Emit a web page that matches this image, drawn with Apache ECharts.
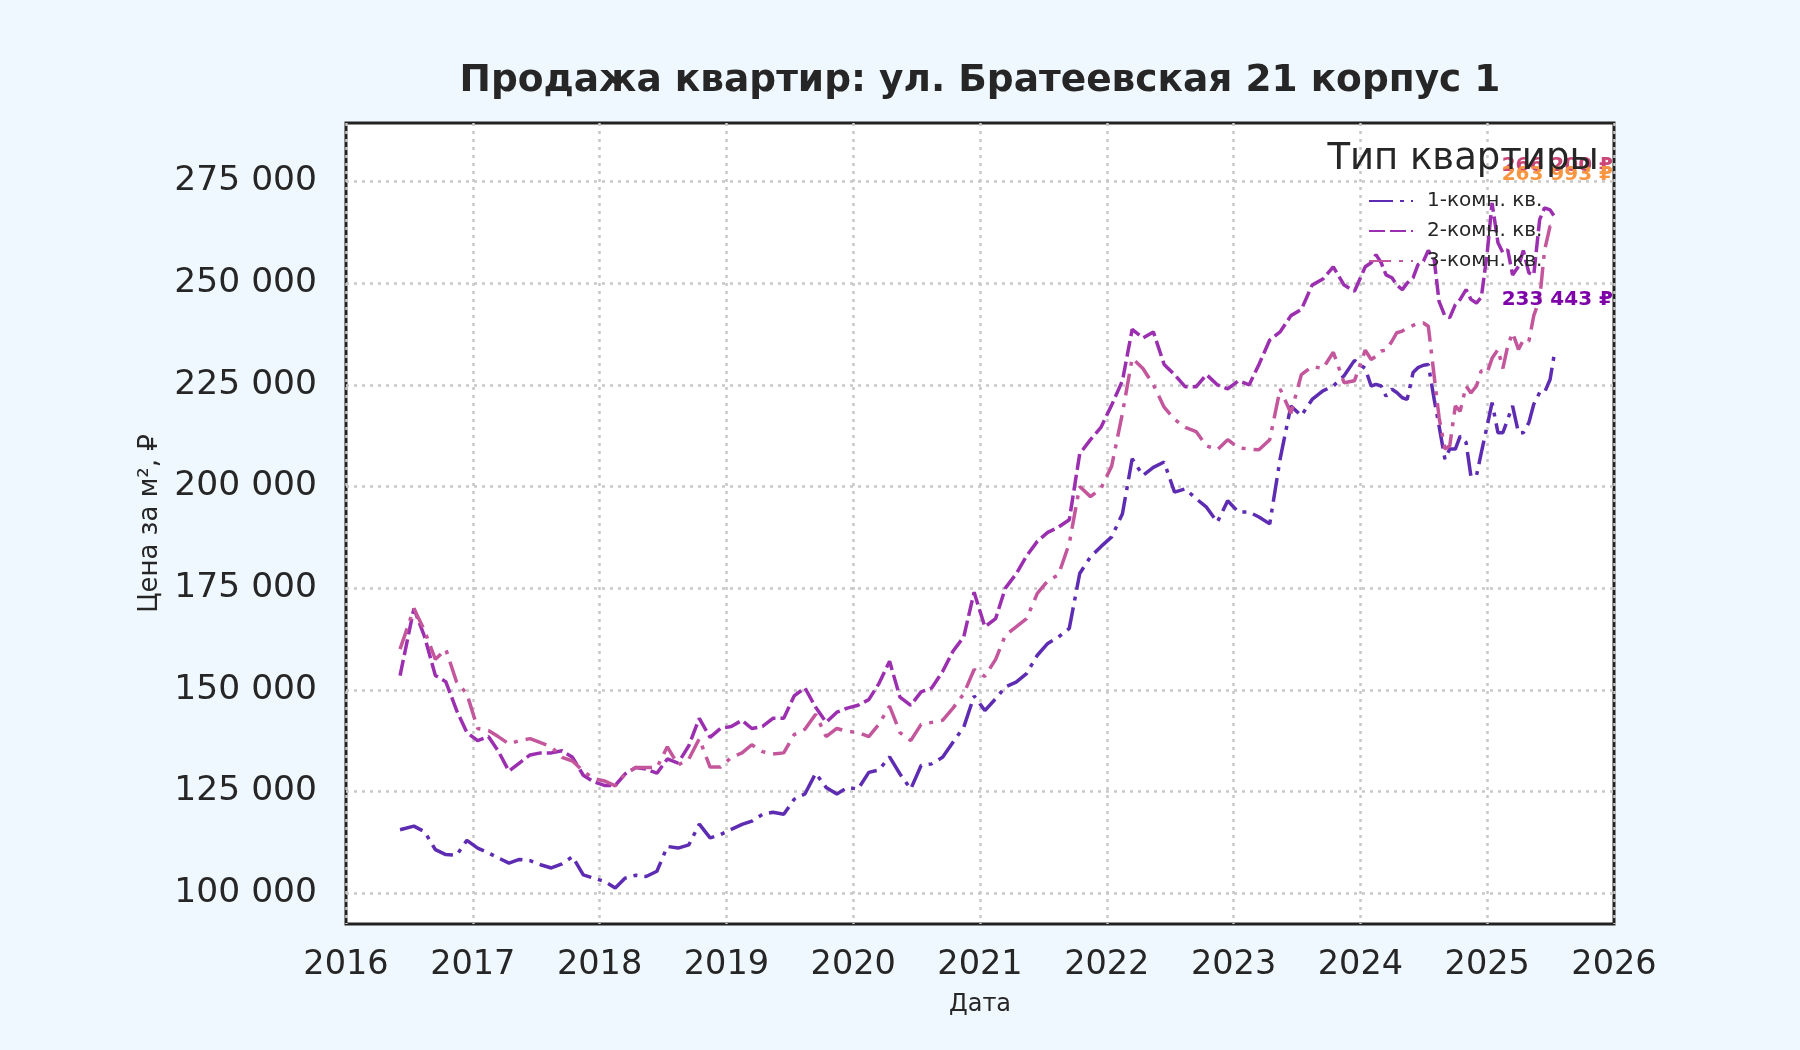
<!DOCTYPE html>
<html>
<head>
<meta charset="utf-8">
<script src="https://cdn.jsdelivr.net/npm/echarts@6/dist/echarts.min.js"></script>
<style>
html, body { margin: 0; padding: 0; background: #f0f8ff; }
#chart { width: 1800px; height: 1050px; }
</style>
</head>
<body>
<div id="chart"></div>
<script>
// sample dates: monthly, then twice a month from 2024 on
const dates = [
  '2016-06-05', '2016-07-15', '2016-08-15', '2016-09-15', '2016-10-15', '2016-11-15', '2016-12-15',
  '2017-01-15', '2017-02-15', '2017-03-15', '2017-04-15', '2017-05-15', '2017-06-15',
  '2017-07-15', '2017-08-15', '2017-09-15', '2017-10-15', '2017-11-15', '2017-12-15',
  '2018-01-15', '2018-02-15', '2018-03-15', '2018-04-15', '2018-05-15', '2018-06-15',
  '2018-07-15', '2018-08-15', '2018-09-15', '2018-10-15', '2018-11-15', '2018-12-15',
  '2019-01-15', '2019-02-15', '2019-03-15', '2019-04-15', '2019-05-15', '2019-06-15',
  '2019-07-15', '2019-08-15', '2019-09-15', '2019-10-15', '2019-11-15', '2019-12-15',
  '2020-01-15', '2020-02-15', '2020-03-15', '2020-04-15', '2020-05-15', '2020-06-15',
  '2020-07-15', '2020-08-15', '2020-09-15', '2020-10-15', '2020-11-15', '2020-12-15',
  '2021-01-15', '2021-02-15', '2021-03-15', '2021-04-15', '2021-05-15', '2021-06-15',
  '2021-07-15', '2021-08-15', '2021-09-15', '2021-10-15', '2021-11-15', '2021-12-15',
  '2022-01-15', '2022-02-15', '2022-03-15', '2022-04-15', '2022-05-15', '2022-06-15',
  '2022-07-15', '2022-08-15', '2022-09-15', '2022-10-15', '2022-11-15', '2022-12-15',
  '2023-01-15', '2023-02-15', '2023-03-15', '2023-04-15', '2023-05-15', '2023-06-15',
  '2023-07-15', '2023-08-15', '2023-09-15', '2023-10-15', '2023-11-15', '2023-12-15',
  '2024-01-15', '2024-02-01', '2024-02-15', '2024-03-01', '2024-03-15', '2024-04-01', '2024-04-15',
  '2024-05-01', '2024-05-15', '2024-06-01', '2024-06-15', '2024-07-01', '2024-07-15', '2024-08-01',
  '2024-08-15', '2024-09-01', '2024-09-15', '2024-10-01', '2024-10-15', '2024-11-01', '2024-11-15',
  '2024-12-01', '2024-12-15',
  '2025-01-01', '2025-01-15', '2025-02-01', '2025-02-15', '2025-03-01', '2025-03-15', '2025-04-01',
  '2025-04-15', '2025-05-01', '2025-05-15', '2025-06-01', '2025-06-15', '2025-07-01', '2025-07-15'
]

const oneRoom = [
  115600, 116500, 115100, 110700, 109500, 109300, 113000,
  111100, 109900, 108700, 107400, 108300, 108000,
  107000, 106200, 107200, 109000, 104500, 103700,
  102900, 101300, 103700, 104400, 104100, 105400,
  111500, 111100, 111900, 117000, 113600, 114400,
  115700, 116900, 117700, 119400, 119900, 119400,
  123100, 124400, 129500, 126000, 124400, 126000,
  125600, 129700, 130300, 133500, 129300, 125600,
  131400, 131800, 133400, 137100, 140800, 148500,
  144900, 147800, 150700, 151900, 154000, 158500,
  161400, 163000, 165100, 178600, 182700, 185200,
  187600, 193300, 206800, 202700, 204700, 206000,
  198600, 199400, 197000, 194900, 191200, 196500,
  193700, 193700, 192500, 190800, 206800, 219800,
  217400, 221400, 223500, 224700, 227200, 231000,
  229000, 224700, 225100, 224700, 222200, 223900, 223100,
  221800, 221400, 228000, 229200, 229800, 230000, 221400,
  214900, 206700, 209200, 209200, 212400, 210800, 202500,
  202600, 208300,
  214900, 220600, 213200, 213200, 216500, 219800, 213200,
  213200, 215700, 220200, 223100, 223100, 226300, 233443
]

const twoRoom = [
  153500, 170000, 163000, 153500, 152000, 145000, 139500,
  137500, 138500, 135000, 130000, 132000, 134000,
  134500, 134500, 135000, 133400, 129000, 127400,
  126500, 126500, 129300, 130900, 130500, 129500,
  133000, 132000, 136300, 143000, 138300, 140500,
  141000, 142500, 140500, 141000, 143000, 143000,
  148500, 150500, 145700, 142000, 144500, 145500,
  146200, 147600, 151500, 157000, 148200, 146200,
  149500, 150500, 154500, 159500, 163000, 174000,
  165500, 167500, 175000, 178500, 182900, 186500,
  188700, 190000, 191800, 208000, 211500, 214500,
  220000, 226000, 238600, 236500, 238000, 230000,
  227500, 224500, 224500, 227500, 225000, 224000,
  226000, 225000, 230000, 236000, 238000, 242000,
  243500, 249500, 251000, 254000, 249500, 248000,
  254000, 255000, 257000, 255000, 252000, 251300, 249500,
  248400, 250000, 251300, 254500, 255400, 258000, 255800,
  245500, 241900, 241500, 244700, 246000, 248400, 246000,
  245100, 246500,
  257400, 269700, 259900, 257500, 258200, 252000, 254100,
  258000, 252500, 252000, 265600, 268500, 268000, 266200
]

const threeRoom = [
  160000, 170000, 164500, 157500, 160000, 152000, 149000,
  140500, 140000, 138500, 136700, 137500, 138000,
  137000, 136000, 133400, 132500, 130000, 128200,
  127600, 126400, 129300, 130900, 130900, 130900,
  136000, 131500, 133000, 138000, 131000, 131000,
  133400, 134500, 136500, 134800, 134200, 134500,
  139000, 140300, 144000, 138500, 140500, 139800,
  139500, 138500, 141500, 146000, 139500, 137500,
  141500, 142000, 142500, 145500, 149000, 155000,
  153300, 157500, 163400, 165500, 167500, 173700,
  176800, 178300, 186000, 200000, 197500, 199500,
  205000, 218000, 231500, 229000, 225000, 219500,
  216500, 214500, 213500, 210000, 209000, 211500,
  209500, 209200, 209000, 211500, 224000, 218000,
  227500, 229500, 229000, 233000, 225500, 226000,
  233500, 231200, 232000, 233300, 233500, 235700, 237800,
  238200, 239000, 239600, 240200, 240200, 239400, 227100,
  217000, 209200, 210000, 219800, 218500, 224700, 223000,
  224700, 228500,
  228000, 231500, 233700, 229000, 234500, 237800, 233700,
  236000, 235700, 242000, 246000, 258000, 264000, 263993
]

const seriesNames = ['1-комн. кв.', '2-комн. кв.', '3-комн. кв.']
const yTicks = [100000, 125000, 150000, 175000, 200000, 225000, 250000, 275000]

const lineColors = ['#5e2cb2', '#9b2fb0', '#c4569c']
const labelColors = ['#7e03a8', '#cc4778', '#f89540']
const dashes = [[24, 7, 4, 7], [16, 5], [22, 8, 4, 8]]
const font = 'DejaVu Sans'

function toYear (s) {
  const d = new Date(s + 'T00:00:00Z')
  const y = d.getUTCFullYear()
  const start = Date.UTC(y, 0, 1)
  const end = Date.UTC(y + 1, 0, 1)
  return y + (d.getTime() - start) / (end - start)
}

function fmt (v) {
  return Math.round(v).toString().replace(/\B(?=(\d{3})+(?!\d))/g, ' ')
}

const years = dates.map(toYear)

const series = [oneRoom, twoRoom, threeRoom].map((values, i) => {
  const last = values[values.length - 1]
  return {
    name: seriesNames[i],
    type: 'line',
    symbol: 'none',
    showSymbol: false,
    data: values.map((v, k) => [years[k], v]),
    lineStyle: { width: 3.5, color: lineColors[i], type: dashes[i] },
    itemStyle: { color: lineColors[i] },
    z: 2 + i,
    markPoint: {
      symbol: 'circle',
      symbolSize: 0,
      data: [{ coord: [2026, last], value: last }],
      label: {
        show: true,
        position: 'left',
        distance: 1,
        offset: [0, -51],
        formatter: fmt(last) + ' ₽',
        color: labelColors[i],
        fontWeight: 'bold',
        fontSize: 20,
        fontFamily: font
      }
    }
  }
})

const chart = echarts.init(document.getElementById('chart'))
chart.setOption({
  animation: false,
  backgroundColor: '#f0f8ff',
  title: [{
    text: 'Продажа квартир: ул. Братеевская 21 корпус 1',
    left: 975,
    top: 57,
    textAlign: 'center',
    textStyle: { fontSize: 37.5, fontWeight: 'bold', color: '#262626', fontFamily: font }
  }, {
    text: 'Тип квартиры',
    left: 1458,
    top: 136,
    textAlign: 'center',
    textStyle: { fontSize: 37, fontWeight: 'normal', color: '#262626', fontFamily: font }
  }],
  legend: {
    orient: 'vertical',
    left: 1363,
    top: 186,
    itemWidth: 44,
    itemHeight: 14,
    itemGap: 10,
    data: seriesNames,
    itemStyle: { opacity: 0 },
    textStyle: { fontSize: 20, color: '#262626', fontFamily: font, padding: [0, 0, 0, 9] }
  },
  grid: {
    left: 346,
    right: 186,
    top: 123,
    bottom: 126,
    show: true,
    backgroundColor: '#ffffff',
    borderColor: '#222222',
    borderWidth: 3
  },
  xAxis: {
    type: 'value',
    min: 2016,
    max: 2026,
    interval: 1,
    name: 'Дата',
    nameLocation: 'middle',
    nameGap: 69,
    nameTextStyle: { fontSize: 24, color: '#262626', fontFamily: font },
    axisLine: { show: false },
    axisTick: { show: false },
    axisLabel: { fontSize: 33.5, color: '#262626', margin: 24, fontFamily: font, formatter: v => String(v) },
    splitLine: { show: true, lineStyle: { color: '#c8c8c8', width: 2.5, type: [3, 5] } }
  },
  yAxis: {
    type: 'value',
    min: 92429,
    max: 289356,
    name: 'Цена за м², ₽',
    nameLocation: 'middle',
    nameGap: 180,
    nameTextStyle: { fontSize: 26, color: '#262626', fontFamily: font },
    axisLine: { show: false },
    axisTick: { show: false, customValues: yTicks },
    axisLabel: { customValues: yTicks, fontSize: 34.5, color: '#262626', margin: 29, fontFamily: font, formatter: v => fmt(v) },
    splitLine: { show: true, lineStyle: { color: '#c8c8c8', width: 2.5, type: [3, 5] } }
  },
  series: series
})
</script>
</body>
</html>
